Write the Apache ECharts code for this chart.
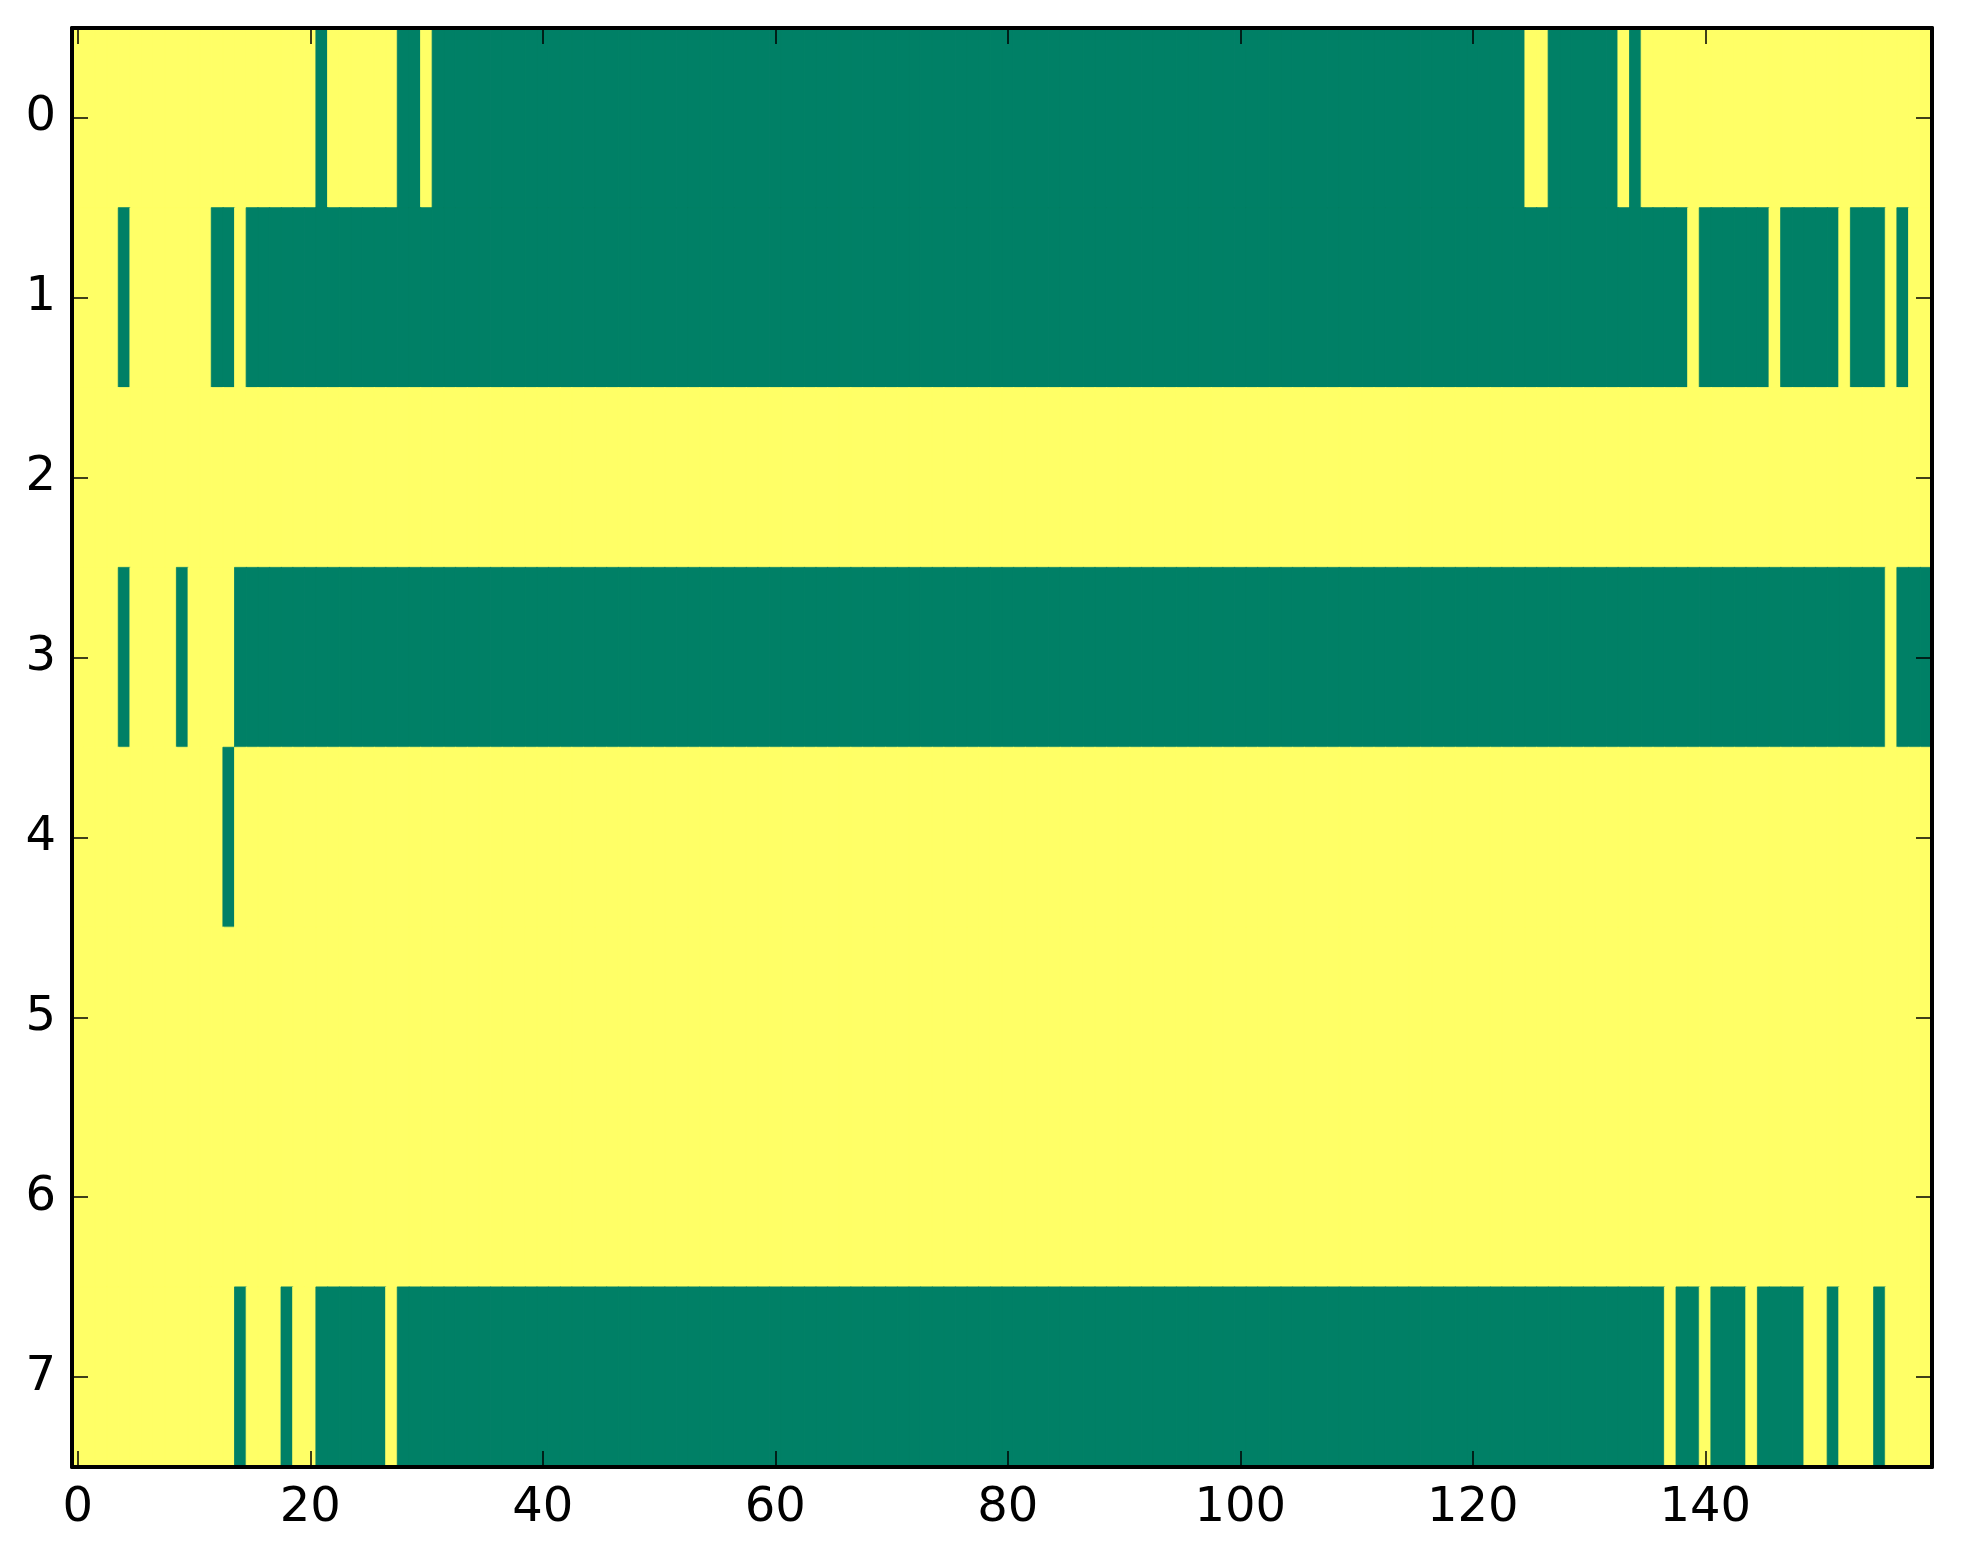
<!DOCTYPE html>
<html>
<head>
<meta charset="utf-8">
<title>binary matrix</title>
<script src="https://cdn.jsdelivr.net/npm/echarts@6/dist/echarts.min.js"></script>
<style>
  html, body { margin: 0; padding: 0; background: #fff; }
  #chart { width: 1963px; height: 1564px; }
</style>
</head>
<body>
<div id="chart"></div>
<script>
// 8 rows x 160 columns, value 1 = yellow, 0 = green
const rowLabels = ['0', '1', '2', '3', '4', '5', '6', '7']
const colCount = 160
const xTickStep = 20

// green (0) runs per row, [first, last] column inclusive
const row0Green = [[21, 21], [28, 29], [31, 124], [127, 132], [134, 134]]
const row1Green = [[4, 4], [12, 13], [15, 138], [140, 145], [147, 151], [153, 155], [157, 157]]
const row2Green = []
const row3Green = [[4, 4], [9, 9], [14, 155], [157, 159]]
const row4Green = [[13, 13]]
const row5Green = []
const row6Green = []
const row7Green = [[14, 14], [18, 18], [21, 26], [28, 136], [138, 139], [141, 143], [145, 148], [151, 151], [155, 155]]

const greenRuns = [row0Green, row1Green, row2Green, row3Green, row4Green, row5Green, row6Green, row7Green]

const GREEN = '#008066'
const YELLOW = '#ffff66'

const colLabels = []
for (let i = 0; i < colCount; i++) colLabels.push(String(i))

const cells = []
greenRuns.forEach((runs, r) => {
  for (let c = 0; c < colCount; c++) {
    const isGreen = runs.some(([a, b]) => c >= a && c <= b)
    const col = isGreen ? GREEN : YELLOW
    // border in the same colour hides the hairline seams between cells
    cells.push({
      value: [c, r, isGreen ? 0 : 1],
      itemStyle: { color: col, borderColor: col, borderWidth: 0.8 }
    })
  }
})

const font = 'DejaVu Sans'
const spine = { show: true, onZero: false, lineStyle: { color: '#000', width: 4 } }
const tick = (interval) => ({
  show: true,
  inside: true,
  length: 16,
  alignWithLabel: true,
  interval: interval,
  lineStyle: { color: '#000', width: 1.5 }
})
const everyTwenty = (idx) => idx % xTickStep === 0

const chart = echarts.init(document.getElementById('chart'))

chart.setOption({
  animation: false,
  backgroundColor: '#fff',
  grid: { left: 72, right: 31, top: 28, bottom: 97, containLabel: false },
  xAxis: [
    {
      type: 'category',
      data: colLabels,
      position: 'bottom',
      z: 10,
      axisLine: spine,
      axisTick: tick(everyTwenty),
      axisLabel: { interval: everyTwenty, fontSize: 48, fontFamily: font, color: '#000', margin: 18 },
      splitLine: { show: false }
    },
    {
      type: 'category',
      data: colLabels,
      position: 'top',
      z: 10,
      axisLine: spine,
      axisTick: tick(everyTwenty),
      axisLabel: { show: false },
      splitLine: { show: false }
    }
  ],
  yAxis: [
    {
      type: 'category',
      data: rowLabels,
      inverse: true,
      position: 'left',
      z: 10,
      axisLine: spine,
      axisTick: tick(0),
      axisLabel: { interval: 0, fontSize: 48, fontFamily: font, color: '#000', margin: 16, padding: [6, 0, 0, 0] },
      splitLine: { show: false }
    },
    {
      type: 'category',
      data: rowLabels,
      inverse: true,
      position: 'right',
      z: 10,
      axisLine: spine,
      axisTick: tick(0),
      axisLabel: { show: false },
      splitLine: { show: false }
    }
  ],
  series: [
    {
      type: 'heatmap',
      xAxisIndex: 0,
      yAxisIndex: 0,
      data: cells,
      emphasis: { disabled: true }
    }
  ]
})
</script>
</body>
</html>
